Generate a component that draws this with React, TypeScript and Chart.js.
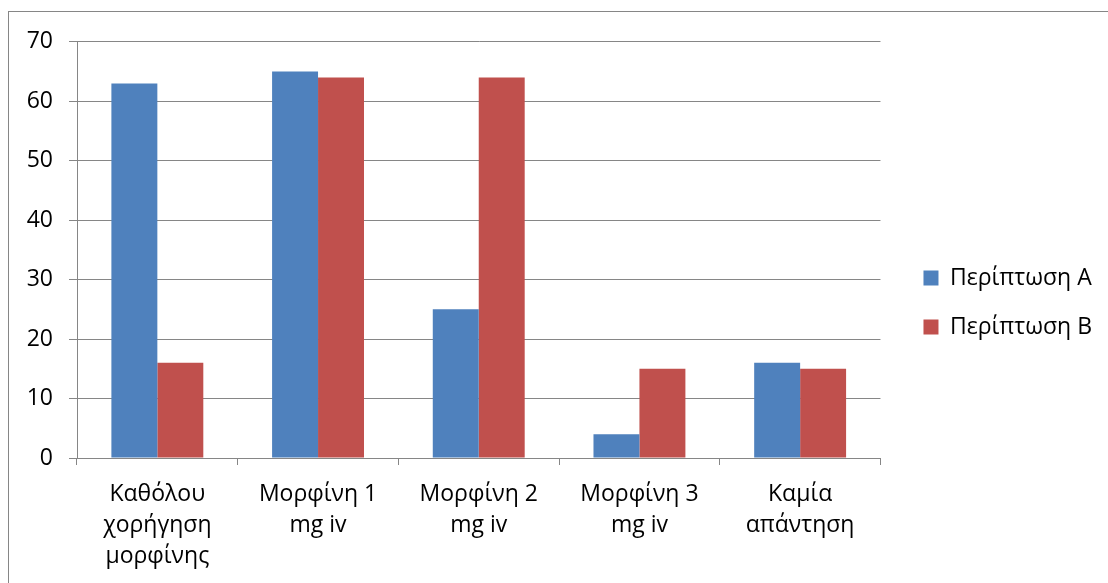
import React, { useEffect, useRef } from "react";
import { Chart, registerables } from "chart.js";

Chart.register(...registerables);

const categories: string[][] = [
  ["Καθόλου", "χορήγηση", "μορφίνης"],
  ["Μορφίνη 1", "mg iv"],
  ["Μορφίνη 2", "mg iv"],
  ["Μορφίνη 3", "mg iv"],
  ["Καμία", "απάντηση"],
];
const seriesA: number[] = [63, 65, 25, 4, 16];
const seriesB: number[] = [16, 64, 64, 15, 15];
const seriesNames: string[] = ["Περίπτωση A", "Περίπτωση B"];
const yTicks: number[] = [0, 10, 20, 30, 40, 50, 60, 70];

const FONT = "'Open Sans', 'Liberation Sans', sans-serif";
const GRID = "#868686";
const FS = 23;

const legendShift = {
  id: "legendShift",
  afterLayout(chart: any) {
    const lg = chart.legend;
    if (lg) {
      lg.top -= 13;
      lg.bottom -= 13;
      lg.left += 17;
      lg.right += 17;
    }
  },
};

export default function App() {
  const ref = useRef<HTMLCanvasElement | null>(null);

  useEffect(() => {
    if (!ref.current) return;
    const chart = new Chart(ref.current, {
      type: "bar",
      data: {
        labels: categories,
        datasets: [
          {
            label: seriesNames[0],
            data: seriesA,
            backgroundColor: "#4F81BD",
            categoryPercentage: 0.572,
            barPercentage: 1,
          },
          {
            label: seriesNames[1],
            data: seriesB,
            backgroundColor: "#C0504D",
            categoryPercentage: 0.572,
            barPercentage: 1,
          },
        ],
      },
      plugins: [legendShift],
      options: {
        animation: false,
        responsive: false,
        maintainAspectRatio: false,
        layout: { padding: { left: 0, right: 24, top: 29, bottom: 0 } },
        plugins: {
          tooltip: { enabled: false },
          legend: {
            position: "right",
            align: "center",
            labels: {
              boxWidth: 15,
              boxHeight: 15,
              padding: 26,
              color: "#000",
              font: { family: FONT, size: FS },
            },
          },
        },
        scales: {
          x: {
            grid: {
              display: true,
              drawOnChartArea: false,
              drawTicks: true,
              tickLength: 7,
              color: GRID,
              offset: true,
            },
            border: { display: true, color: GRID, width: 1 },
            ticks: {
              color: "#000",
              font: { family: FONT, size: FS, lineHeight: 1.34 },
              padding: 14,
              maxRotation: 0,
              autoSkip: false,
            },
            afterFit: (s: any) => {
              s.height = 132;
            },
          },
          y: {
            min: 0,
            max: 70,
            afterBuildTicks: (s: any) => {
              s.ticks = yTicks.map((v) => ({ value: v }));
            },
            grid: {
              color: GRID,
              tickLength: 8,
              drawTicks: true,
            },
            border: { display: true, color: GRID, width: 1 },
            ticks: {
              color: "#000",
              font: { family: FONT, size: FS },
              padding: 16,
            },
            afterFit: (s: any) => {
              s.width = 68;
            },
          },
        },
      },
    });
    return () => chart.destroy();
  }, []);

  return (
    <div
      style={{
        position: "absolute",
        left: 8,
        top: 11,
        width: 1120,
        height: 600,
        border: "1px solid #868686",
        background: "#fff",
      }}
    >
      <canvas ref={ref} width={1100} height={578} style={{ display: "block" }} />
    </div>
  );
}
